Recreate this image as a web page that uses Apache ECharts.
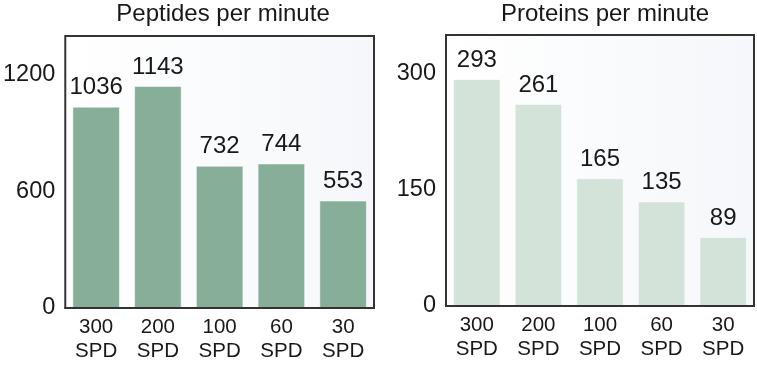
<!DOCTYPE html>
<html><head><meta charset="utf-8">
<script src="https://cdn.jsdelivr.net/npm/echarts@6/dist/echarts.min.js"></script>
<style>html,body{margin:0;padding:0;background:#fff}#c{width:757px;height:366px}</style>
</head><body><div id="c"></div>
<script>
const categories = ['300\nSPD', '200\nSPD', '100\nSPD', '60\nSPD', '30\nSPD'];
const peptides = [1036, 1143, 732, 744, 553];
const proteins = [293, 261, 165, 135, 89];
const titles = ['Peptides per minute', 'Proteins per minute'];
const peptideTicks = { min: 0, max: 1400, interval: 600 };
const proteinTicks = { min: 0, max: 350, interval: 150 };

const FONT = '"Liberation Sans", Arial, sans-serif';
const TXT = '#181818';
const chart = echarts.init(document.getElementById('c'));
const bg = () => new echarts.graphic.LinearGradient(0, 0, 1, 0, [
  { offset: 0, color: '#ffffff' }, { offset: 1, color: '#f5f7fa' }
]);
function xAxis(i) {
  return {
    type: 'category', gridIndex: i, data: categories, z: 5,
    axisLine: { show: true, lineStyle: { color: '#333', width: 2 } },
    axisTick: { show: false },
    axisLabel: { color: TXT, fontFamily: FONT, fontSize: 20.5, lineHeight: 24, margin: 7 }
  };
}
function yAxis(i, t) {
  return {
    type: 'value', gridIndex: i, min: t.min, max: t.max, interval: t.interval,
    axisLine: { show: false }, axisTick: { show: false }, splitLine: { show: false },
    axisLabel: { color: TXT, fontFamily: FONT, fontSize: 23.5, margin: 10, showMaxLabel: false,
      formatter: v => String(v), padding: [0, 0, 6, 0] }
  };
}
function series(i, data, color) {
  return {
    type: 'bar', xAxisIndex: i, yAxisIndex: i, data: data, barWidth: '77%',
    itemStyle: { color: color, borderColor: 'rgba(255,255,255,0.5)', borderWidth: 1 },
    label: { show: true, position: 'top', distance: 7, color: TXT, fontFamily: FONT, fontSize: 24 }
  };
}
const titleStyle = { fontFamily: FONT, fontSize: 24, fontWeight: 'normal', color: TXT };
chart.setOption({
  animation: false,
  title: [
    { text: titles[0], left: 218, top: -3, textAlign: 'center', textStyle: titleStyle },
    { text: titles[1], left: 600, top: -3, textAlign: 'center', textStyle: titleStyle }
  ],
  grid: [
    { left: 62, right: 383, top: 36, bottom: 58, show: true, backgroundColor: bg(), borderColor: '#333', borderWidth: 2 },
    { left: 446, right: 3, top: 35, bottom: 60, show: true, backgroundColor: bg(), borderColor: '#333', borderWidth: 2 }
  ],
  xAxis: [xAxis(0), xAxis(1)],
  yAxis: [yAxis(0, peptideTicks), yAxis(1, proteinTicks)],
  series: [series(0, peptides, '#86ae99'), series(1, proteins, '#d3e3d9')]
});
</script></body></html>
